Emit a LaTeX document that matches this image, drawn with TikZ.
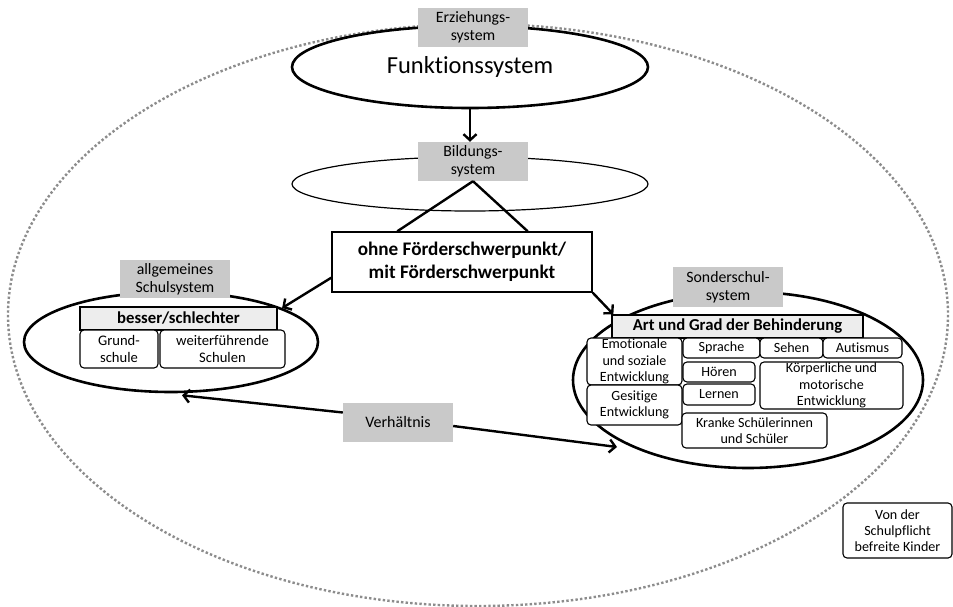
\documentclass[tikz,border=0pt]{standalone}
\usepackage{fontspec}
\setmainfont{Carlito}[Ligatures=NoCommon]
\usetikzlibrary{shapes.geometric,arrows.meta,calc}
\definecolor{lblgray}{HTML}{C9C9C9}
\definecolor{hdrgray}{HTML}{EDEDED}
\definecolor{dotgray}{HTML}{8C8C8C}
\begin{document}
\begin{tikzpicture}[x=1pt,y=-1pt,
  lbl/.style={rectangle, fill=lblgray, inner sep=0pt, align=center,
    minimum width=110pt, minimum height=39pt, font=\fontsize{15.8}{18}\selectfont},
  bigell/.style={ellipse, draw, fill=white, line width=2.6pt, inner sep=0pt},
  hdr/.style={rectangle, draw, fill=hdrgray, line width=1.3pt, inner sep=0pt,
    font=\fontsize{16.7}{19}\selectfont\bfseries},
  sub/.style={rectangle, rounded corners=4pt, draw, fill=white, line width=1.1pt,
    inner sep=0pt, align=center, font=\fontsize{14.1}{16.3}\selectfont},
  arr/.style={line width=2.4pt, -{Straight Barb[length=6pt,width=13pt]}},
  conn/.style={line width=2.4pt}
]
\useasboundingbox (0,0) rectangle (953,607);

% outer dotted ellipse
\draw[dotgray, line width=2.4pt, dash pattern=on 2.4pt off 2.2pt] (478,315) ellipse [x radius=470, y radius=291];

% Funktionssystem
\node[bigell, minimum width=356pt, minimum height=82pt, font=\fontsize{24.5}{28}\selectfont] (funk) at (470,67) {Funktionssystem};
\node[lbl] (erz) at (473,27.5) {Erziehungs-\\system};

% Bildungssystem
\node[ellipse, draw, line width=1.2pt, inner sep=0pt, minimum width=356pt, minimum height=54pt] (bild) at (470,184) {};
\node[lbl] (bildlbl) at (473,161.5) {Bildungs-\\system};
\draw[arr] (funk.south) -- (funk.south |- bildlbl.north);

% main box
\node[rectangle, draw, fill=white, line width=1.4pt, inner sep=0pt, align=center,
  minimum width=260pt, minimum height=60pt, font=\fontsize{19.2}{23}\selectfont\bfseries]
  (main) at (462,262) {ohne Förderschwerpunkt/\\mit Förderschwerpunkt};
\draw[conn] (bildlbl.south) -- ($(main.north west)+(66,0)$);
\draw[conn] (bildlbl.south) -- ($(main.north east)+(-65,0)$);

% left: allgemeines Schulsystem
\node[bigell, minimum width=294pt, minimum height=100pt] (allg) at (171,342) {};
\node[lbl, minimum height=38pt] (allglbl) at (175,279) {allgemeines\\Schulsystem};
\node[hdr, minimum width=197pt, minimum height=23pt] (besser) at (178.5,318.5) {besser/schlechter};
\node[sub, minimum width=78pt, minimum height=38pt, font=\fontsize{14.6}{17.5}\selectfont] (grund) at (119,349) {Grund-\\schule};
\node[sub, minimum width=125pt, minimum height=38pt, font=\fontsize{14.6}{17.5}\selectfont] (weiter) at (222.5,349) {weiterführende\\Schulen};

% right: Sonderschulsystem
\node[bigell, minimum width=350pt, minimum height=176pt] (sonder) at (748,380) {};
\node[lbl, minimum height=40pt] (sonderlbl) at (728,287) {Sonderschul-\\system};
\node[hdr, minimum width=251pt, minimum height=23pt] (art) at (737.5,326.5) {Art und Grad der Behinderung};
\node[sub, minimum width=95pt, minimum height=47pt] (emot) at (634.5,361.5) {Emotionale\\und soziale\\Entwicklung};
\node[sub, minimum width=95pt, minimum height=40pt] (geist) at (634.5,405) {Gesitige\\Entwicklung};
\node[sub, minimum width=77pt, minimum height=20pt] (sprache) at (721.5,348) {Sprache};
\node[sub, minimum width=63pt, minimum height=20pt] (sehen) at (791.5,348) {Sehen};
\node[sub, minimum width=79pt, minimum height=20pt] (autismus) at (862.5,348) {Autismus};
\node[sub, minimum width=72pt, minimum height=20pt] (hoeren) at (719,372) {Hören};
\node[sub, minimum width=72pt, minimum height=21pt] (lernen) at (719,394.5) {Lernen};
\node[sub, minimum width=143pt, minimum height=47pt] (koerper) at (831.5,385.5) {Körperliche und\\motorische\\Entwicklung};
\node[sub, minimum width=145pt, minimum height=35pt] (kranke) at (754.5,430.5) {Kranke Schülerinnen\\und Schüler};

% arrows from main box
\draw[arr] ($(main.south west)+(0,-15)$) -- (allg.17);
\draw[arr] (main.south east) -- ($(art.north west)+(2,0)$);

% Verhältnis
\node[lbl, font=\fontsize{16}{18}\selectfont] (verh) at (398,422.5) {Verhältnis};
\coordinate (vl) at ($(allg.south)+(11,2)$);
\coordinate (vr) at ($(sonder.center)+(-131,67)$);
\draw[arr] ($(verh.west)+(0,-10)$) -- (vl);
\draw[arr] ($(verh.east)+(0,3.5)$) -- (vr);

% Von der Schulpflicht befreite Kinder
\node[sub, minimum width=109pt, minimum height=55pt] (von) at (897.5,530.5) {Von der\\Schulpflicht\\befreite Kinder};
\end{tikzpicture}
\end{document}
